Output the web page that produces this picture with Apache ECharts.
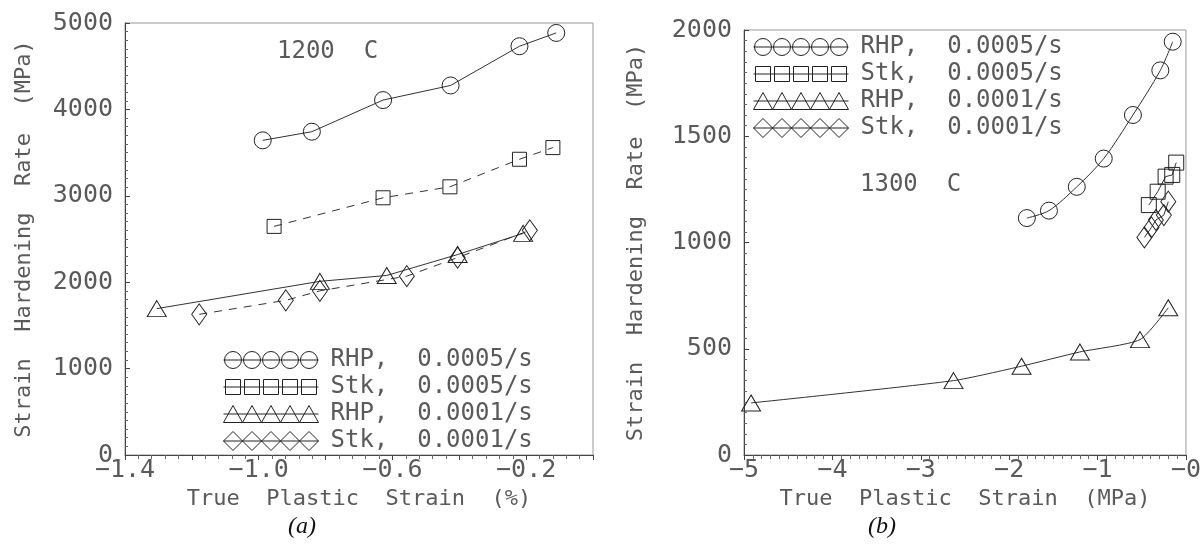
<!DOCTYPE html>
<html>
<head>
<meta charset="utf-8">
<script src="https://cdn.jsdelivr.net/npm/echarts@6/dist/echarts.min.js"></script>
<style>
html, body { margin: 0; padding: 0; background: #fff; }
#main { width: 1204px; height: 550px; }
</style>
</head>
<body>
<div id="main"></div>
<script>
// (a) 1200 C — strain in %
var aRhp5 = [[-0.988, 3642], [-0.841, 3742], [-0.628, 4108], [-0.426, 4277], [-0.22, 4731], [-0.11, 4885]];
var aStk5 = [[-0.954, 2646], [-0.628, 2977], [-0.428, 3104], [-0.22, 3423], [-0.12, 3558]];
var aRhp1 = [[-1.305, 1694], [-0.817, 2010], [-0.617, 2078], [-0.405, 2320], [-0.209, 2565]];
var aStk1 = [[-1.178, 1628], [-0.919, 1790], [-0.817, 1900], [-0.557, 2070], [-0.405, 2285], [-0.189, 2600]];

// (b) 1300 C
var bRhp5 = [[-1.8, 1115], [-1.55, 1150], [-1.235, 1262], [-0.93, 1395], [-0.6, 1600], [-0.29, 1810], [-0.15, 1945]];
var bStk5 = [[-0.42, 1176], [-0.32, 1239], [-0.23, 1310], [-0.155, 1318], [-0.11, 1376]];
var bRhp1 = [[-4.92, 245], [-2.63, 350], [-1.86, 418], [-1.2, 485], [-0.52, 543], [-0.2, 693]];
var bStk1 = [[-0.47, 1024], [-0.39, 1071], [-0.34, 1106], [-0.25, 1129], [-0.2, 1192]];

var names = ['RHP,  0.0005/s', 'Stk,  0.0005/s', 'RHP,  0.0001/s', 'Stk,  0.0001/s'];
var xLabelsA = [-1.4, -1.0, -0.6, -0.2];

var font = 'DejaVu Sans Mono';
var txt = '#5a5a5a';

// legend icon: five markers threaded on a line
function rowIcon(kind) {
    var p = 'M0,9.5L95,9.5';
    for (var i = 0; i < 5; i++) {
        var c = 9.5 + 19 * i;
        if (kind == 'circle') {
            p += 'M' + (c - 8.5) + ',9.5A8.5,8.5 0 1,1 ' + (c + 8.5) + ',9.5A8.5,8.5 0 1,1 ' + (c - 8.5) + ',9.5Z';
        } else if (kind == 'rect') {
            p += 'M' + (c - 7.5) + ',2L' + (c + 7.5) + ',2L' + (c + 7.5) + ',17L' + (c - 7.5) + ',17Z';
        } else if (kind == 'triangle') {
            p += 'M' + (c - 9.5) + ',18L' + c + ',1L' + (c + 9.5) + ',18Z';
        } else {
            p += 'M' + (c - 9.5) + ',9.5L' + c + ',0L' + (c + 9.5) + ',9.5L' + c + ',19Z';
        }
    }
    return 'path://' + p;
}

var kinds = ['circle', 'rect', 'triangle', 'diamond'];
var legendData = names.map(function (n, i) {
    return { name: n, icon: rowIcon(kinds[i]) };
});

function legendAt(left, top) {
    return {
        left: left, top: top, orient: 'vertical',
        itemWidth: 95, itemHeight: 19, itemGap: 3,
        selectedMode: false,
        data: legendData,
        itemStyle: { color: 'rgba(0,0,0,0)', borderColor: '#222', borderWidth: 1 },
        textStyle: { fontFamily: font, fontSize: 24, color: txt, padding: [0, 0, 0, 7] }
    };
}

function mk(name, data, sym, size, dashed, g, smooth) {
    return {
        name: name, type: 'line', data: data,
        xAxisIndex: g, yAxisIndex: g,
        symbol: sym, symbolSize: size, smooth: smooth || false,
        itemStyle: { color: 'rgba(0,0,0,0)', borderColor: '#222', borderWidth: 1 },
        lineStyle: { color: '#333', width: 1, type: dashed ? [8, 7] : 'solid' },
        emphasis: { disabled: true }
    };
}

function yAx(g, max, interval, gap) {
    return {
        gridIndex: g, type: 'value', min: 0, max: max, interval: interval,
        name: 'Strain  Hardening  Rate  (MPa)', nameLocation: 'middle', nameGap: gap,
        nameTextStyle: { fontFamily: font, fontSize: 22, color: txt },
        axisLine: { show: true, onZero: false, lineStyle: { color: '#444' } },
        axisTick: { show: true, inside: true, length: 5, lineStyle: { color: '#444' } },
        minorTick: { show: true, splitNumber: 10, length: 3, lineStyle: { color: '#666' } },
        axisLabel: {
            fontFamily: font, fontSize: 25, color: txt, margin: 12,
            formatter: function (v) { return String(v); }
        },
        splitLine: { show: false }
    };
}

function xAx(g, min, interval, split, name, fmt) {
    return {
        gridIndex: g, type: 'value', min: min, max: 0, interval: interval,
        name: name, nameLocation: 'middle', nameGap: 27,
        nameTextStyle: { fontFamily: font, fontSize: 22, color: txt },
        axisLine: { onZero: false, lineStyle: { color: '#444' } },
        axisTick: { length: 5, lineStyle: { color: '#444' } },
        minorTick: { show: true, splitNumber: split, length: 4, lineStyle: { color: '#666' } },
        axisLabel: { fontFamily: font, fontSize: 25, color: txt, margin: 3, formatter: fmt },
        splitLine: { show: false }
    };
}

var option = {
    animation: false,
    backgroundColor: '#fff',
    grid: [
        { left: 125, right: 611, top: 23, bottom: 95, show: true, borderColor: '#999', borderWidth: 1 },
        { left: 744, right: 17, top: 30, bottom: 95, show: true, borderColor: '#999', borderWidth: 1 }
    ],
    legend: [legendAt(218, 343), legendAt(748, 30)],
    xAxis: [
        xAx(0, -1.4, 0.2, 5, 'True  Plastic  Strain  (%)', function (v) {
            for (var i = 0; i < xLabelsA.length; i++) {
                if (Math.abs(v - xLabelsA[i]) < 1e-6) return '\u2212' + Math.abs(v).toFixed(1);
            }
            return '';
        }),
        xAx(1, -5, 1, 10, 'True  Plastic  Strain  (MPa)', function (v) {
            return '\u2212' + Math.abs(v);
        })
    ],
    yAxis: [yAx(0, 5000, 1000, 90), yAx(1, 2000, 500, 97)],
    graphic: [
        { type: 'text', left: 277, top: 40, style: { text: '1200  C', font: '24px "DejaVu Sans Mono"', fill: txt } },
        { type: 'text', left: 860, top: 173, style: { text: '1300  C', font: '24px "DejaVu Sans Mono"', fill: txt } },
        { type: 'text', left: 288, top: 515, style: { text: '(a)', font: 'italic 24px "Liberation Serif"', fill: '#111' } },
        { type: 'text', left: 868, top: 515, style: { text: '(b)', font: 'italic 24px "Liberation Serif"', fill: '#111' } }
    ],
    series: [
        mk(names[0], aRhp5, 'circle', 17, false, 0),
        mk(names[1], aStk5, 'rect', 14, true, 0),
        mk(names[2], aRhp1, 'triangle', [19, 16], false, 0),
        mk(names[3], aStk1, 'diamond', [15, 21], true, 0),
        mk(names[0], bRhp5, 'circle', 17, false, 1, 0.3),
        mk(names[1], bStk5, 'rect', 15, false, 1),
        mk(names[2], bRhp1, 'triangle', [19, 16], false, 1, 0.2),
        mk(names[3], bStk1, 'diamond', [15, 21], false, 1)
    ]
};

var myChart = echarts.init(document.getElementById('main'));
myChart.setOption(option);
</script>
</body>
</html>
